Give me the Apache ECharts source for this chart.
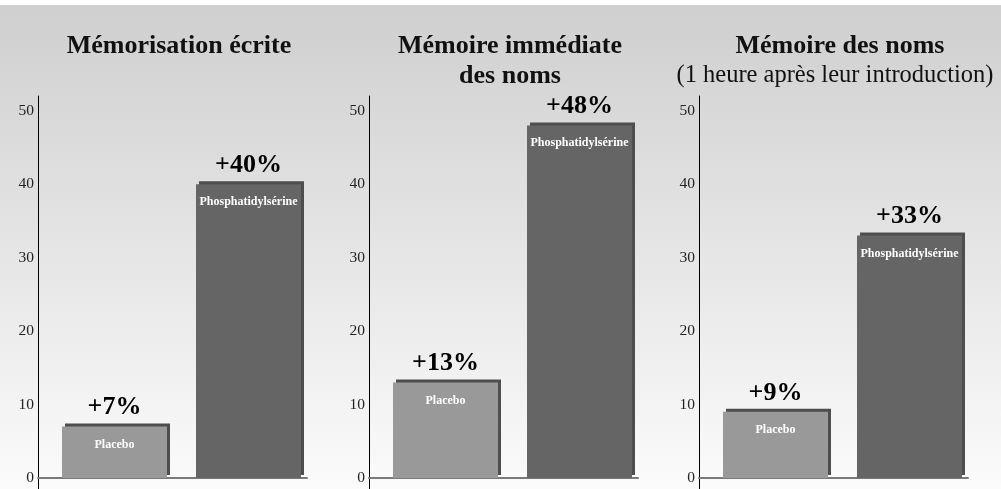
<!DOCTYPE html>
<html>
<head>
<meta charset="utf-8">
<script src="https://cdn.jsdelivr.net/npm/echarts@6/dist/echarts.min.js"></script>
<style>
  html, body { margin: 0; padding: 0; }
  #chart {
    width: 1001px; height: 489px;
    background: linear-gradient(to bottom, #fff 0, #fff 5px, #cfcfcf 5px, #fbfbfb 100%);
  }
</style>
</head>
<body>
<div id="chart"></div>
<script>
// categories et valeurs (gain en %)
var categories = ['Placebo', 'Phosphatidylsérine'];
var ecrite = [7, 40];
var immediate = [13, 48];
var uneHeure = [9, 33];
var yTicks = [0, 10, 20, 30, 40, 50];

var titres = [
    { text: 'Mémorisation écrite', sub: '' },
    { text: 'Mémoire immédiate\ndes noms', sub: '' },
    { text: 'Mémoire des noms', sub: '(1 heure après leur introduction)' }
];
var valeurs = [ecrite, immediate, uneHeure];

var chart = echarts.init(document.getElementById('chart'));
var serif = 'Liberation Serif';
var couleurs = ['#999999', '#656565'];

// position gauche de chaque axe vertical
var axeX = [38, 369, 699];
var gridTop = 96, gridHeight = 394, yMin = -1.5, yMax = 52;

var option = {
    animation: false,
    title: [],
    grid: [],
    xAxis: [],
    yAxis: [],
    series: []
};

for (var i = 0; i < 3; i++) {
    var x0 = axeX[i];

    option.title.push({
        text: titres[i].text,
        left: x0 + 136,
        top: 26,
        textAlign: 'center',
        textStyle: { fontFamily: serif, fontWeight: 'bold', fontSize: 26, color: '#111', lineHeight: 30 }
    });
    if (titres[i].sub) {
        option.title.push({
            text: titres[i].sub,
            left: x0 + 131,
            top: 56,
            textAlign: 'center',
            textStyle: { fontFamily: serif, fontWeight: 'normal', fontSize: 24.5, color: '#111', lineHeight: 30 }
        });
    }

    // grille des axes
    option.grid.push({ left: x0, top: gridTop, width: 269, height: gridHeight });
    // grille des barres
    option.grid.push({ left: x0 + 9.5, top: gridTop, width: 268, height: gridHeight });

    option.xAxis.push({
        type: 'category', gridIndex: 2 * i, data: [''],
        axisLine: { onZero: true, lineStyle: { color: '#7a7a7a', width: 2 } },
        axisTick: { show: false }, axisLabel: { show: false }
    });
    option.xAxis.push({
        type: 'category', gridIndex: 2 * i + 1, data: categories, show: false
    });

    option.yAxis.push({
        type: 'value', gridIndex: 2 * i, min: yMin, max: yMax,
        splitLine: { show: false },
        axisTick: { show: false },
        axisLine: { show: true, onZero: false, lineStyle: { color: '#000', width: 1 } },
        axisLabel: {
            customValues: yTicks, margin: 4,
            fontFamily: serif, fontSize: 15.5, color: '#222'
        }
    });
    option.yAxis.push({
        type: 'value', gridIndex: 2 * i + 1, min: yMin, max: yMax, show: false
    });

    option.series.push({
        type: 'bar',
        xAxisIndex: 2 * i + 1, yAxisIndex: 2 * i + 1,
        barWidth: 105, barGap: '-100%',
        data: valeurs[i].map(function(v, j) {
            return { value: v, itemStyle: { color: couleurs[j] } };
        }),
        itemStyle: { shadowColor: '#4e4e4e', shadowOffsetX: 3, shadowOffsetY: -3, shadowBlur: 0 },
        label: {
            show: true, position: 'top', distance: 6,
            formatter: function(p) { return '+' + p.value + '%'; },
            fontFamily: serif, fontWeight: 'bold', fontSize: 26, color: '#000'
        }
    });
    // nom de la catégorie dans la barre
    option.series.push({
        type: 'bar',
        xAxisIndex: 2 * i + 1, yAxisIndex: 2 * i + 1,
        barWidth: 105, barGap: '-100%',
        data: valeurs[i],
        itemStyle: { color: 'rgba(0,0,0,0)' },
        label: {
            show: true, position: 'insideTop', distance: 12,
            formatter: '{b}',
            fontFamily: serif, fontWeight: 'bold', fontSize: 12, color: '#fff'
        }
    });
}

chart.setOption(option);
</script>
</body>
</html>
